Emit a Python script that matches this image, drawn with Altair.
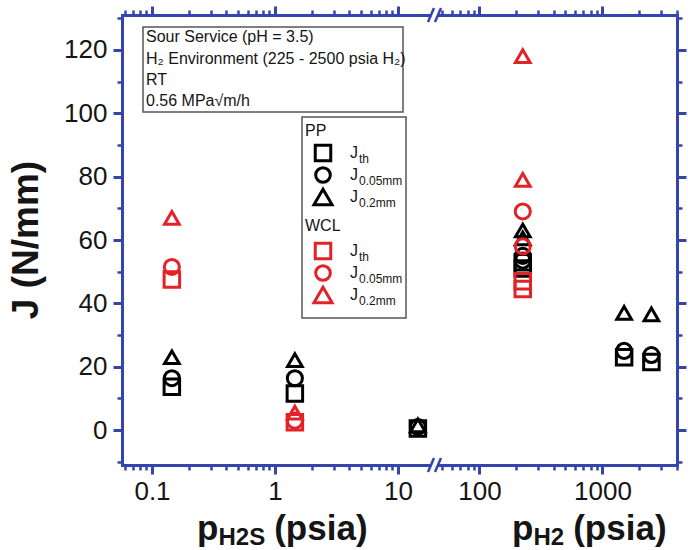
import math
import altair as alt
import pandas as pd

# ---------------- data ----------------
materials = ["PP", "WCL"]
measures = ["Jth", "J0.05mm", "J0.2mm"]

pp_p = [0.145, 1.45, 14.5, 225, 225, 1500, 2500]
pp_jth = [13.7, 11.6, 0.5, 51.0, 53.0, 23.0, 21.5]
pp_j005 = [16.4, 16.4, 1.0, 53.5, 55.0, 25.0, 23.7]
pp_j02 = [23.0, 22.1, 1.5, 60.5, 63.0, 37.0, 36.5]

wcl_p = [0.145, 1.45, 225, 225]
wcl_jth = [47.5, 2.5, 44.5, 47.0]
wcl_j005 = [51.5, 3.0, 58.0, 69.0]
wcl_j02 = [67.0, 5.5, 79.0, 118.0]

x_major_vals = [0.1, 1, 10, 100, 1000]
x_major_labels = ["0.1", "1", "10", "100", "1000"]
y_ticks = [-10, 0, 10, 20, 30, 40, 50, 60, 70, 80, 90, 100, 110, 120, 130]

# broken log axis: H2S side (< break) plotted as log10(p); H2 side shifted left
BREAK_P = 30.0
SHIFT = 0.338


def xt(p):
    v = math.log10(p)
    return round(v if p < BREAK_P else v - SHIFT, 6)


rows = []
for mat, p_list, series in [
    ("PP", pp_p, [pp_jth, pp_j005, pp_j02]),
    ("WCL", wcl_p, [wcl_jth, wcl_j005, wcl_j02]),
]:
    for meas, ys in zip(measures, series):
        for p, j in zip(p_list, ys):
            rows.append({"material": mat, "measure": meas, "p": p, "xt": xt(p), "J": j})
df = pd.DataFrame(rows)

# tick positions in transformed space
x_major_t = [xt(v) for v in x_major_vals]
minor_raw = []
for d in [0.01, 0.1, 1, 10, 100, 1000]:
    for m in range(2, 10):
        minor_raw.append(round(m * d, 6))
x_lo, x_hi = -1.244, 3.268
x_minor_t = []
for v in minor_raw:
    t = xt(v)
    if x_lo <= t <= x_hi and not (19 < v < 45):
        x_minor_t.append(t)
x_ticks_t = sorted(set(x_major_t + x_minor_t))

major_test = " || ".join(f"abs(datum.value - ({t})) < 1e-6" for t in x_major_t)
x_label_expr = " : ".join(
    f"abs(datum.value - ({t})) < 1e-6 ? '{lab}'" for t, lab in zip(x_major_t, x_major_labels)
) + " : ''"

# ---------------- style ----------------
FONT = "Liberation Sans"
BLUE = "#3446ad"
RED = "#e32227"
BLACK = "#000000"
TXT = "#151515"
L, T = 122, 15          # plot-area origin in the page
W, H = 555, 450         # plot-area size

xscale = alt.Scale(domain=[x_lo, x_hi], nice=False, zero=False)
yscale = alt.Scale(domain=[-11, 131], nice=False, zero=False)


def make_axis(orient, values, test, labels, label_expr=None, pad=6):
    kw = dict(
        orient=orient, values=values, title=None, grid=False, zindex=0,
        domainColor=BLUE, domainWidth=3, domainCap="square",
        tickColor=BLUE,
        tickSize={"condition": {"test": test, "value": 9}, "value": 5},
        tickWidth={"condition": {"test": test, "value": 3}, "value": 2.5},
        labels=labels,
    )
    if labels:
        kw.update(labelExpr=label_expr, labelFont=FONT, labelFontSize=26, labelColor=TXT,
                  labelPadding=pad, labelOverlap=False, labelFlush=False, labelBound=False)
    return alt.Axis(**kw)


y_test = "datum.value % 20 == 0"
ax_bottom = make_axis("bottom", x_ticks_t, major_test, True, x_label_expr, pad=4)
ax_top = make_axis("top", x_ticks_t, major_test, False)
ax_left = make_axis("left", y_ticks, y_test, True, "datum.value % 20 == 0 ? datum.label : ''")
ax_right = make_axis("right", y_ticks, y_test, False)

size_range = [240, 215, 330]
shape_range = ["square", "circle", "triangle-up"]

points = alt.Chart(df).mark_point(filled=False, strokeWidth=3, opacity=1).encode(
    x=alt.X("xt:Q", scale=xscale, axis=ax_bottom),
    y=alt.Y("J:Q", scale=yscale, axis=ax_left),
    color=alt.Color("material:N", scale=alt.Scale(domain=materials, range=[BLACK, RED]), legend=None),
    shape=alt.Shape("measure:N", scale=alt.Scale(domain=measures, range=shape_range), legend=None),
    size=alt.Size("measure:O", scale=alt.Scale(domain=measures, range=size_range), legend=None),
)

frame = alt.Chart(df).mark_point(opacity=0).encode(
    x=alt.X("xt:Q", scale=xscale, axis=ax_top),
    y=alt.Y("J:Q", scale=yscale, axis=ax_right),
)

base = pd.DataFrame({"k": [0]})


def text(s, x, y, size, bold=False, align="left", baseline="alphabetic", angle=0, color=TXT):
    kw = dict(text=s, font=FONT, fontSize=size, fontWeight="bold" if bold else "normal",
              align=align, baseline=baseline, color=color)
    if angle:
        kw["angle"] = angle
    return alt.Chart(base).mark_text(**kw).encode(x=alt.value(x - L), y=alt.value(y - T))


def box(x1, y1, x2, y2, stroke="#555555", fill="white", sw=1.5):
    mk = dict(fill=fill, strokeWidth=sw)
    if sw > 0:
        mk["stroke"] = stroke
    return alt.Chart(base).mark_rect(**mk).encode(
        x=alt.value(x1 - L), x2=alt.value(x2 - L), y=alt.value(y1 - T), y2=alt.value(y2 - T))


def seg(x1, y1, x2, y2, color=BLUE, sw=2.5):
    return alt.Chart(base).mark_rule(color=color, strokeWidth=sw).encode(
        x=alt.value(x1 - L), x2=alt.value(x2 - L), y=alt.value(y1 - T), y2=alt.value(y2 - T))


def sym(shape, color, x, y, size):
    return alt.Chart(base).mark_point(shape=shape, filled=False, strokeWidth=3, opacity=1,
                                      color=color, size=size).encode(
        x=alt.value(x - L), y=alt.value(y - T))


layers = [frame, points]

# axis break marks (top and bottom)
for yb in [T, T + H]:
    layers.append(box(431.5, yb - 3.5, 437.5, yb + 3.5, fill="white", sw=0))
    layers.append(seg(428, yb + 7, 434, yb - 7))
    layers.append(seg(435, yb + 7, 441, yb - 7))

# condition box
layers.append(box(143, 27, 403, 112))
layers.append(text("Sour Service (pH = 3.5)", 146, 42, 16))
layers.append(text("H₂ Environment (225 - 2500 psia H₂)", 146, 63.5, 16))
layers.append(text("RT", 146, 85, 16))
layers.append(text("0.56 MPa√m/h", 146, 106, 16))

# legend box
layers.append(box(302, 117, 406, 318))
layers.append(text("PP", 305, 136, 16))
layers.append(text("WCL", 305, 231, 16))
subs = ["th", "0.05mm", "0.2mm"]
rows_y = {"PP": [153, 175, 197], "WCL": [251, 273, 295]}
colors = {"PP": BLACK, "WCL": RED}
for mat in materials:
    for i in range(3):
        ry = rows_y[mat][i]
        layers.append(sym(shape_range[i], colors[mat], 323, ry, size_range[i]))
        layers.append(text("J", 350, ry + 5, 16))
        layers.append(text(subs[i], 359, ry + 10, 12))

# axis titles
layers.append(text("J (N/mm)", 27, T + H / 2, 37, bold=True, align="center",
                   baseline="middle", angle=270))
for x0, sub in [(197, "H2S"), (512, "H2")]:
    layers.append(text("p", x0, 540, 35, bold=True))
    layers.append(text(sub, x0 + 21.5, 545, 24, bold=True))
    subw = 46.7 if sub == "H2S" else 30.7
    layers.append(text("(psia)", x0 + 21.5 + subw + 9, 540, 35, bold=True))

chart = alt.layer(*layers).resolve_axis(x="independent", y="independent").properties(
    width=W, height=H,
    padding={"left": L, "top": T, "right": 688 - L - W, "bottom": 550 - T - H},
    autosize=alt.AutoSizeParams(type="none"),
    background="white",
).configure_view(strokeWidth=0)

chart.save("out.html", embed_options={"renderer": "svg", "actions": False})
